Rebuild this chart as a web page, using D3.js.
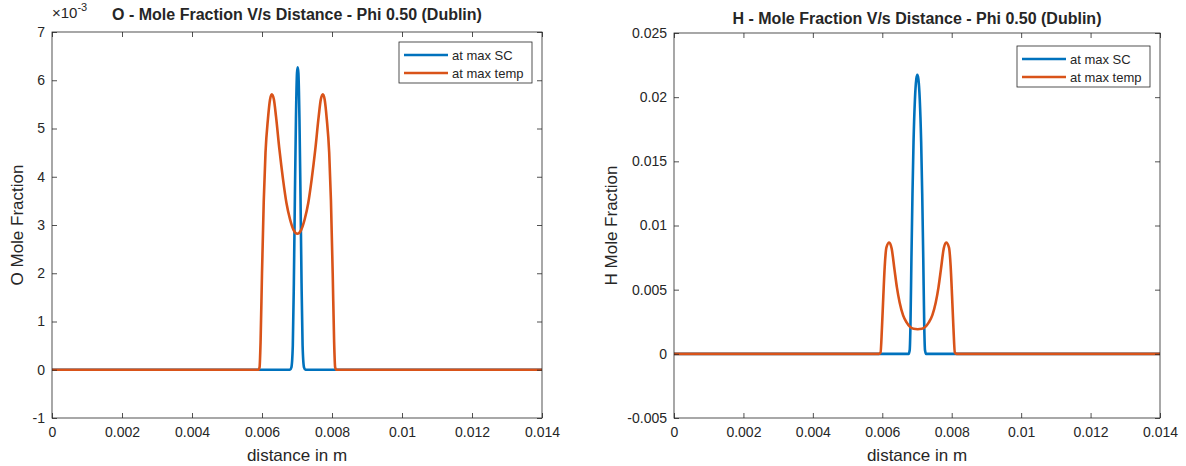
<!DOCTYPE html>
<html lang="en">
<head>
<meta charset="UTF-8">
<title>Mole Fraction V/s Distance - Phi 0.50 (Dublin)</title>
<script src="https://d3js.org/d3.v7.min.js"></script>
<style>
  body { margin: 0; background: #fff; }
  svg text { font-family: "Liberation Sans", Arial, sans-serif; fill: #262626; }
</style>
</head>
<body>
<svg id="chart" width="1186" height="466"></svg>
<script>
// series: [distance in m, value]
// O values are in units of 1e-3 (the axis shows x10^-3)
const oMaxSC = [
  [0, 0], [0.0068, 0], [0.00684, 0.05], [0.00688, 0.5], [0.00691, 1.8], [0.00694, 3.6],
  [0.00697, 5.2], [0.007, 6.15], [0.00702, 6.27], [0.00704, 6.15], [0.00707, 5.2],
  [0.0071, 3.6], [0.00713, 1.8], [0.00716, 0.5], [0.0072, 0.05], [0.00724, 0], [0.014, 0]
];
const oMaxTemp = [
  [0, 0], [0.0059, 0], [0.00593, 0.05], [0.00596, 0.6], [0.006, 2.0], [0.00605, 3.5],
  [0.0061, 4.5], [0.00617, 5.2], [0.00623, 5.6], [0.00628, 5.71], [0.00634, 5.6],
  [0.0064, 5.25], [0.0065, 4.55], [0.0066, 3.95], [0.0067, 3.45], [0.0068, 3.12],
  [0.0069, 2.9], [0.00701, 2.82], [0.00712, 2.9], [0.00722, 3.12], [0.00732, 3.45],
  [0.00742, 3.95], [0.00752, 4.55], [0.00762, 5.25], [0.00768, 5.6], [0.00774, 5.71],
  [0.00779, 5.6], [0.00785, 5.2], [0.00792, 4.5], [0.00797, 3.5], [0.00802, 2.0],
  [0.00806, 0.6], [0.00809, 0.05], [0.00812, 0], [0.014, 0]
];
const hMaxSC = [
  [0, 0], [0.00676, 0], [0.00679, 0.0003], [0.00681, 0.002], [0.00684, 0.0075],
  [0.00687, 0.0125], [0.0069, 0.0165], [0.00694, 0.0198], [0.00698, 0.0214],
  [0.00701, 0.02174], [0.00704, 0.0214], [0.00708, 0.0198], [0.00712, 0.0165],
  [0.00715, 0.0125], [0.00718, 0.0075], [0.00721, 0.002], [0.00723, 0.0003],
  [0.00726, 0], [0.014, 0]
];
const hMaxTemp = [
  [0, 0], [0.0059, 0], [0.00595, 0.0001], [0.00599, 0.002], [0.00603, 0.0045],
  [0.00607, 0.0068], [0.00612, 0.0083], [0.0062, 0.00867], [0.00627, 0.0082],
  [0.00635, 0.0066], [0.00642, 0.0052], [0.0065, 0.004], [0.0066, 0.003],
  [0.0067, 0.00245], [0.0068, 0.0021], [0.0069, 0.00195], [0.00702, 0.00192],
  [0.00714, 0.00195], [0.00724, 0.0021], [0.00734, 0.00245], [0.00744, 0.003],
  [0.00754, 0.004], [0.00762, 0.0052], [0.00769, 0.0066], [0.00777, 0.0082],
  [0.00784, 0.00867], [0.00792, 0.0083], [0.00797, 0.0068], [0.00801, 0.0045],
  [0.00805, 0.002], [0.00809, 0.0001], [0.00814, 0], [0.014, 0]
];

const xTicks = [0, 0.002, 0.004, 0.006, 0.008, 0.01, 0.012, 0.014];
const oTicks = [-1, 0, 1, 2, 3, 4, 5, 6, 7];
const hTicks = [-0.005, 0, 0.005, 0.01, 0.015, 0.02, 0.025];
const legendLabels = ["at max SC", "at max temp"];
const colors = ["#0072BD", "#D95319"];

const svg = d3.select("#chart");
const fmt = d => String(+d.toFixed(3));

function drawPanel(p) {
  const x = d3.scaleLinear().domain([0, 0.014]).range([p.left, p.right]);
  const y = d3.scaleLinear().domain(p.yDomain).range([p.bottom, p.top]);
  const g = svg.append("g");

  const clipId = "clip-" + p.id;
  g.append("clipPath").attr("id", clipId).append("rect")
    .attr("x", p.left).attr("y", p.top)
    .attr("width", p.right - p.left).attr("height", p.bottom - p.top);

  const line = d3.line().x(d => x(d[0])).y(d => y(d[1])).curve(d3.curveMonotoneX);
  p.series.forEach((s, i) => {
    g.append("path").datum(s)
      .attr("clip-path", `url(#${clipId})`)
      .attr("fill", "none").attr("stroke", colors[i])
      .attr("stroke-width", 2.6).attr("stroke-linejoin", "round")
      .attr("d", line);
  });

  // axes with inward ticks, MATLAB style
  const axes = [
    [d3.axisBottom(x).tickValues(xTicks).tickFormat(fmt).tickPadding(9), `translate(0,${p.bottom})`],
    [d3.axisTop(x).tickValues(xTicks).tickFormat(""), `translate(0,${p.top})`],
    [d3.axisLeft(y).tickValues(p.yTicks).tickFormat(p.yFmt).tickPadding(7), `translate(${p.left},0)`],
    [d3.axisRight(y).tickValues(p.yTicks).tickFormat(""), `translate(${p.right},0)`]
  ];
  axes.forEach(([ax, tr]) => {
    const a = g.append("g").attr("transform", tr)
      .call(ax.tickSizeInner(-5).tickSizeOuter(0));
    a.select(".domain").remove();
    a.selectAll("line").attr("stroke", "#262626").attr("stroke-width", 0.8);
    a.selectAll("text").attr("font-size", 14).attr("fill", "#262626")
      .style("font-family", '"Liberation Sans", Arial, sans-serif');
  });

  g.append("rect")
    .attr("x", p.left).attr("y", p.top)
    .attr("width", p.right - p.left).attr("height", p.bottom - p.top)
    .attr("fill", "none").attr("stroke", "#262626").attr("stroke-width", 0.8);

  g.append("text")
    .attr("x", (p.left + p.right) / 2).attr("y", p.titleY)
    .attr("text-anchor", "middle").attr("font-size", 16).attr("font-weight", "bold")
    .attr("fill", "#000").text(p.title);

  g.append("text")
    .attr("x", (p.left + p.right) / 2).attr("y", 461)
    .attr("text-anchor", "middle").attr("font-size", 17).text("distance in m");

  g.append("text")
    .attr("transform", `translate(${p.yLabelX},${(p.top + p.bottom) / 2}) rotate(-90)`)
    .attr("text-anchor", "middle").attr("font-size", 17).text(p.yLabel);

  // legend
  const lg = g.append("g").attr("transform", `translate(${p.legend[0]},${p.legend[1]})`);
  lg.append("rect").attr("width", p.legend[2]).attr("height", 41)
    .attr("fill", "#fff").attr("stroke", "#262626").attr("stroke-width", 0.8);
  legendLabels.forEach((lab, i) => {
    const yy = 13 + i * 18;
    lg.append("line").attr("x1", 5).attr("x2", 49).attr("y1", yy).attr("y2", yy)
      .attr("stroke", colors[i]).attr("stroke-width", 2.6);
    lg.append("text").attr("x", 53).attr("y", yy + 4.5)
      .attr("font-size", 13).attr("fill", "#000").text(lab);
  });
  return g;
}

const left = drawPanel({
  id: "o", left: 52, right: 542, top: 32, bottom: 418,
  yDomain: [-1, 7], yTicks: oTicks, yFmt: d => String(d),
  series: [oMaxSC, oMaxTemp],
  title: "O - Mole Fraction V/s Distance - Phi 0.50 (Dublin)", titleY: 20,
  yLabel: "O Mole Fraction", yLabelX: 23,
  legend: [399, 42, 133]
});
// exponent label
const ex = left.append("text").attr("x", 52).attr("y", 18).attr("font-size", 15);
ex.append("tspan").text("\u00d710");
ex.append("tspan").attr("dy", -7).attr("font-size", 11).text("-3");

drawPanel({
  id: "h", left: 674, right: 1160, top: 33, bottom: 418,
  yDomain: [-0.005, 0.025], yTicks: hTicks, yFmt: fmt,
  series: [hMaxSC, hMaxTemp],
  title: "H - Mole Fraction V/s Distance - Phi 0.50 (Dublin)", titleY: 24,
  yLabel: "H Mole Fraction", yLabelX: 617,
  legend: [1017, 46, 133]
});
</script>
</body>
</html>
